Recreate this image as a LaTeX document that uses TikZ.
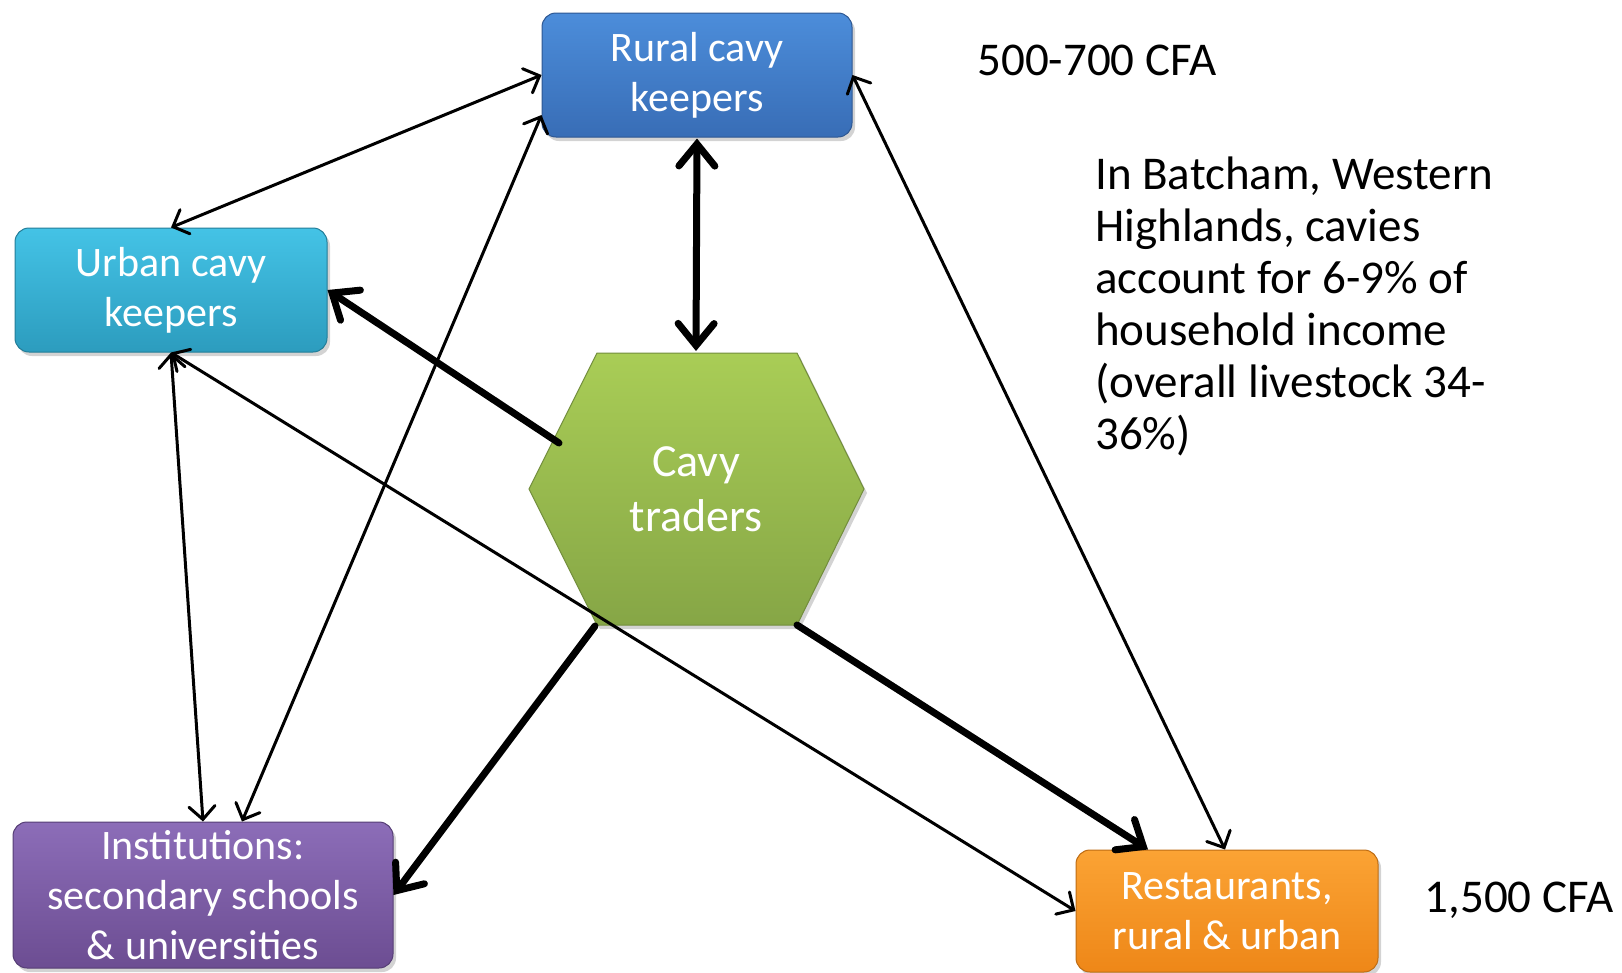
\documentclass[tikz,border=0pt]{standalone}
\usepackage{fontspec}
\setmainfont{Carlito}
\usetikzlibrary{arrows.meta,shadows,calc}
\definecolor{ruraltop}{HTML}{4C8DDA}
\definecolor{ruralbot}{HTML}{386DB6}
\definecolor{urbantop}{HTML}{44C3E6}
\definecolor{urbanbot}{HTML}{2C9CBE}
\definecolor{hextop}{HTML}{A9CD56}
\definecolor{hexbot}{HTML}{86A646}
\definecolor{insttop}{HTML}{8C6DB8}
\definecolor{instbot}{HTML}{6C4D92}
\definecolor{resttop}{HTML}{FBA334}
\definecolor{restbot}{HTML}{EE8718}
\tikzset{
  thinhead/.tip={Straight Barb[length=13pt,width=26pt,line cap=round]},
  thickhead/.tip={Straight Barb[length=22pt,width=36pt,line cap=round]},
  boxnode/.style={rounded corners=14pt, draw=#1bot!80!black, line width=1pt,
    top color=#1top, bottom color=#1bot, text=white, align=center,
    font=\fontsize{42}{50}\selectfont, inner sep=0pt,
    drop shadow={opacity=0.35, shadow xshift=3pt, shadow yshift=-4pt}},
  thin arrow/.style={line width=3pt, line cap=round, thinhead-thinhead},
  thick line/.style={line width=7pt, line cap=round},
  plaintext/.style={font=\fontsize{47}{52}\selectfont, inner sep=0pt}
}
\begin{document}
\begin{tikzpicture}[x=1pt,y=-1pt]
\useasboundingbox (0,0) rectangle (1622,972);
% boxes
\node[boxnode=rural, minimum width=310pt, minimum height=124pt] (rural) at (697,75) {Rural cavy\\keepers};
\node[boxnode=urban, minimum width=312pt, minimum height=124pt] (urban) at (171,290) {Urban cavy\\keepers};
\node[boxnode=inst, minimum width=380pt, minimum height=146pt] (inst) at (203,895) {Institutions:\\secondary schools\\\& universities};
\node[boxnode=rest, minimum width=302pt, minimum height=122pt] (rest) at (1227,911) {Restaurants,\\rural \& urban};
% hexagon
\coordinate (hc) at (696,489);
\coordinate (h1) at (529,489);
\coordinate (h2) at (597,353);
\coordinate (h3) at (797,353);
\coordinate (h4) at (864,489);
\coordinate (h5) at (797,625);
\coordinate (h6) at (597,625);
\draw[draw=hexbot!85!black, line width=1pt, top color=hextop, bottom color=hexbot,
  drop shadow={opacity=0.35, shadow xshift=3pt, shadow yshift=-4pt}]
  (h1) -- (h2) -- (h3) -- (h4) -- (h5) -- (h6) -- cycle;
\node[text=white, align=center, font=\fontsize{46}{55}\selectfont, inner sep=0pt] (traders) at (hc) {Cavy\\traders};
\coordinate (htop) at (696,353);
\coordinate (hul) at (559,443);
\coordinate (hbl) at (595,626);
\coordinate (hbr) at (797,625);
% thin arrows
\draw[thin arrow] (rural.west) -- (urban.north);
\draw[thin arrow] ([yshift=-40pt]rural.west) -- ([xshift=39pt]inst.north);
\draw[thin arrow] (rural.east) -- ([xshift=-2pt]rest.north);
\draw[thin arrow] (urban.south) -- (rest.west);
\draw[thin arrow] (urban.south) -- (inst.north);
% thick arrows
\draw[thick line, thickhead-thickhead] ([yshift=-1pt]rural.south) -- ([yshift=2pt]htop);
\draw[thick line, -thickhead] (hul) -- (urban.east);
\draw[thick line, -thickhead] (hbl) -- (inst.east);
\draw[thick line, -thickhead] (hbr) -- ([xshift=-79pt]rest.north);
% texts
\node[plaintext] (price1) at (1097,60) {500-700 CFA};
\node[plaintext] (price2) at (1519,900) {1,500 CFA};
\node[plaintext, anchor=north west, align=left] (note) at (1095,157)
 {In Batcham, Western\\Highlands, cavies\\account for 6-9\% of\\household income\\(overall livestock 34-\\36\%)};
\end{tikzpicture}
\end{document}
